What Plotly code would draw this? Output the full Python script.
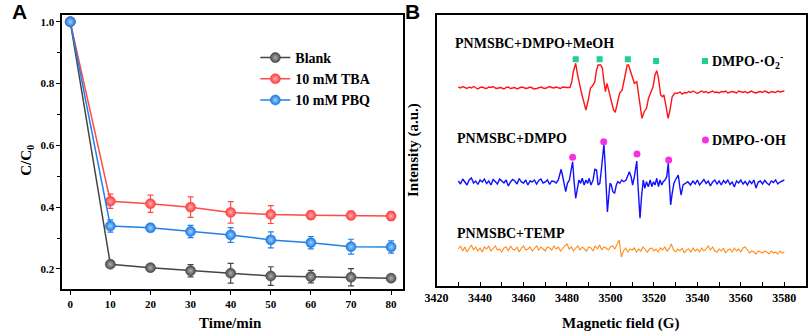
import plotly.graph_objects as go

W, H = 809, 335

# ---------------- Panel A data ----------------
time_min = [0, 10, 20, 30, 40, 50, 60, 70, 80]
blank = [1.0, 0.215, 0.204, 0.194, 0.186, 0.177, 0.175, 0.173, 0.170]
blank_err = [0.0, 0.010, 0.008, 0.020, 0.032, 0.030, 0.020, 0.028, 0.008]
tba = [1.0, 0.419, 0.411, 0.400, 0.383, 0.376, 0.374, 0.373, 0.371]
tba_err = [0.0, 0.023, 0.028, 0.033, 0.035, 0.029, 0.013, 0.013, 0.014]
pbq = [1.0, 0.339, 0.333, 0.321, 0.310, 0.294, 0.285, 0.272, 0.271]
pbq_err = [0.0, 0.020, 0.011, 0.020, 0.024, 0.026, 0.020, 0.024, 0.020]
series_names = ["Blank", "10 mM TBA", "10 mM PBQ"]
a_xticks = [0, 10, 20, 30, 40, 50, 60, 70, 80]
a_yticks = [0.2, 0.4, 0.6, 0.8, 1.0]
a_yticktext = ["0.2", "0.4", "0.6", "0.8", "1.0"]

# ---------------- Panel B data (intensity, arbitrary units) ----------------
# MeOH spectrum (red)
red_left_start = 3430
red_left = [1, 0, 1.5, 0.5, -0.5, 1, 0, 1.5, 0.5, -1, 0.5, 1, 0, -0.5, 1, 0.5, 1.5, 0,
            -0.5, 0.5, 0, -1, 0.5, 1, -0.5, 0, 0.5, -1, 0, 1, 0.5, -0.5, 0, 1, 0, -1,
            -0.5, 0.5, 1, 0, -0.5, 0.5, 1.5, 0.5, 0, 1, 0.5, -0.5, 1, 0.5]
red_feat_field = [3480, 3481.4, 3482.2, 3482.9, 3484.0, 3484.8, 3486.0, 3486.7, 3487.5,
                  3488.7, 3489.8, 3490.8, 3491.7, 3492.8, 3493.6, 3494.3, 3495.5, 3496.3,
                  3497.0, 3497.7, 3498.4, 3499.2, 3500.4, 3501.4, 3502.2, 3503.0, 3504.2,
                  3505.4, 3506.4, 3507.7, 3508.3, 3509.2, 3510.2, 3511.0, 3512.1, 3512.8,
                  3513.7, 3514.5, 3515.5, 3516.6, 3517.5, 3518.6, 3519.6, 3520.5, 3521.3,
                  3522.1, 3523.1, 3523.9, 3524.6, 3525.6, 3526.5, 3527.4, 3528.4, 3529.6,
                  3530.7, 3532, 3533, 3534]
red_feat = [0.5, 0.5, 6.3, 16.3, 24.7, 14, 0, -5.3, -12,
            -22, -12, 0, 2, 6.3, 18, 23, 23, 19.7,
            6.3, -3.7, 4.7, -2, -12, -22, -24.3, -17, -5.3,
            -2, 9.7, 23, 23, 16.3, 8, 4.7, 6.3, -5.3,
            -20.3, -30.3, -23.7, -20.3, -10.3, -3.7, 1.3, 13, 17.3,
            9.7, -7, -8.7, -7, -18.7, -30.3, -22, -8.7, -5.3,
            -5.3, -4, -6, -4.5]
red_right_start = 3535
red_right = [-5, -3.5, -4.5, -3, -4, -5.5, -4, -3, -4.5, -3.5, -5, -4, -3, -4.5, -4, -5,
             -3.5, -4, -3, -5, -4.5, -3.5, -4, -5, -3, -4, -4.5, -3.5, -5, -4, -3, -4.5,
             -5, -4, -3.5, -4.5, -3, -4, -5, -3.5, -4, -4.5, -3, -4, -3.5, -3]

# DMPO spectrum (blue)
blue_left_start = 3430
blue_left = [1, -2, 3, 0, -3, 2, 4, -1, 1, -2.5, 2, 0, 3, -1.5, 1, -3, 2.5, 0.5, -2, 3,
             1, -1, 2, -4, 0, 2.5, 1, -2, 3.5, 0, -1, 2, -3, 1, 0, 2, -2, 1.5, 3, -1, 0,
             2, -2.5, 1, 0.5, -1, 2]
blue_feat_field = [3476.9, 3477.3, 3477.9, 3478.7, 3479.4, 3480.2, 3481.1, 3481.9, 3482.6,
                   3483.2, 3484.0, 3484.8, 3485.5, 3486.3, 3487.0, 3487.9, 3488.7, 3489.5,
                   3490.2, 3491.0, 3492.0, 3492.8, 3493.6, 3494.3, 3495.1, 3495.8, 3496.6,
                   3497.0, 3497.6, 3498.3, 3498.6, 3499.2, 3499.8, 3500.4, 3501.1, 3501.9,
                   3502.7, 3503.4, 3504.3, 3505.2, 3506.1, 3507.2, 3508.0, 3508.7, 3509.5,
                   3510.2, 3511.0, 3512.1, 3512.7, 3513.3, 3513.6, 3514.3, 3515.1, 3515.8,
                   3516.6, 3517.4, 3518.3, 3519.0, 3519.8, 3520.5, 3521.3, 3522.1, 3522.8,
                   3523.6, 3524.3, 3525.1, 3525.9, 3526.6, 3527.2, 3527.7, 3528.4, 3529.2,
                   3529.9, 3530.7, 3531.2, 3531.9, 3532.5, 3533.4, 3534.5, 3535.6, 3536.8]
blue_feat = [10.3, 12.7, 7, -3, -9.7, -1.3, 2, 12, 20.3,
             2, -16.3, -6.3, 2, -1.3, 3.7, -3, 2, -1.3,
             3.7, -3, 2, 12.7, 12, -3, -1.3, 12, 32,
             38, 15.3, -21.3, -30, -14.7, -1.3, -3, -9.7, -11.3,
             -3, 0.3, -1.3, 2, 0.3, 2, 7, 10.3, 5.3,
             -3, 5.3, 21, -4.7, -28, -36.3, -14.7, 2, -6.3,
             0.3, -4.7, 2, -4.7, 0.3, -3, 3.7, -4.7, 2,
             -3, 0.3, 2, 5.3, 19, -1.3, -23, -11.3, -1.3,
             2, 5.3, 7, -4.7, -13, -3, -1.3, 0.3, -3]
blue_right_start = 3538
blue_right = [1, -2, 2, -3, 0, 2.5, -1.5, 1, -4, 0, 2, -2, 1, -3, 1.5, -1, 2, -2.5, 0, -5,
              1, -1, 2, -2, 0.5, -3, 1, -1.5, 2, -6, 0, 1, -2, 1.5, -1, -3, 1, -0.5, 2,
              -2, 0, 1, 2]

# TEMP spectrum (orange)
orange_start = 3430
orange = [0, 3, -2, 2, -3, 1, 4, -1, 2, -2,
          1, -3, 2, 0, 3, -2, 1, 3, -1, 0,
          -3, 1, 2, -2, 3, 0, -1, 2, -3, 1,
          3, -1, 0, 2, -2, 1, 3, -1, 2, 0,
          -2, 2, 1, -1, 3, 0, 2, -2, 1, 3,
          5, 0, 2, -2, 1, 3, -1, 2, 0, -2,
          2, 1, -2, 3, 0, 4, -1, 2, 1, -1,
          2, 3, 0, 5, 9, -8, -2, 1, -3, 0,
          -1, 1, -3, 0, -2, 2, -1, -3, 0, 1,
          -2, 0, -3, 1, -1, 2, -2, 0, 5, -1,
          -3, 0, -2, 1, -4, -1, 0, -3, 1, -2,
          0, -3, 1, -2, 0, 3, -1, 2, -2, -3,
          0, -2, 1, -4, -1, 0, -3, 1, -2, 0,
          -3, 1, 2, -1, -4, -2, -3, -5, -2, -3,
          -4, -2, -3, -5, -2, -4, -3, -5, -2, -4,
          -3]

# stacking baselines of the three spectra (same arbitrary units)
baseline_meoh, baseline_dmpo, baseline_temp = 198, 104, 37

# peak markers
o2_fields = [3484, 3495, 3508, 3521]
o2_heights = [226.7, 226.7, 226.7, 225]
oh_fields = [3482.6, 3496.9, 3512.2, 3526.8]
oh_heights = [128.7, 144.3, 132, 126]
o2_key = (3543.5, 225)
oh_key = (3543.7, 146)

b_xticks = list(range(3420, 3581, 20))

SERIF = "Liberation Serif"
SANS = "Liberation Sans"


def px(x):
    return x / W


def py(y):
    return 1 - y / H


fig = go.Figure()

# ---------- Panel A traces ----------
styles = [
    ("#454545", "#4a4a4a", "#b0b0b0"),
    ("#ff4a4a", "#ff3a3a", "#ffb0b0"),
    ("#1f80e8", "#1a78e0", "#9fd0ff"),
]
for name, vals, errs, (lc, mc, gc) in zip(series_names, [blank, tba, pbq],
                                           [blank_err, tba_err, pbq_err], styles):
    fig.add_trace(go.Scatter(
        x=time_min, y=vals, name=name, mode="lines+markers",
        line=dict(color=lc, width=1.5),
        marker=dict(size=10, color=mc, gradient=dict(type="radial", color=gc),
                    line=dict(width=0.6, color=lc)),
        error_y=dict(type="data", array=errs, visible=True, color=lc, thickness=1.2, width=3),
        xaxis="x", yaxis="y",
    ))

# ---------- Panel B traces ----------
def build(segs):
    xs, ys = [], []
    for fx, fy in segs:
        xs += list(fx)
        ys += list(fy)
    return xs, ys

rx, ry = build([
    ([red_left_start + i for i in range(len(red_left))], red_left),
    (red_feat_field, red_feat),
    ([red_right_start + i for i in range(len(red_right))], red_right),
])
bx, by = build([
    ([blue_left_start + i for i in range(len(blue_left))], blue_left),
    (blue_feat_field, blue_feat),
    ([blue_right_start + i for i in range(len(blue_right))], blue_right),
])
ox = [orange_start + i for i in range(len(orange))]

fig.add_trace(go.Scatter(x=rx, y=[baseline_meoh + v for v in ry], mode="lines",
                         line=dict(color="#ff1414", width=1.4), showlegend=False,
                         xaxis="x2", yaxis="y2"))
fig.add_trace(go.Scatter(x=bx, y=[baseline_dmpo + v for v in by], mode="lines",
                         line=dict(color="#1010ff", width=1.4), showlegend=False,
                         xaxis="x2", yaxis="y2"))
fig.add_trace(go.Scatter(x=ox, y=[baseline_temp + v for v in orange], mode="lines",
                         line=dict(color="#ff8c1a", width=1.1), showlegend=False,
                         xaxis="x2", yaxis="y2"))

fig.add_trace(go.Scatter(x=o2_fields + [o2_key[0]], y=o2_heights + [o2_key[1]], mode="markers",
                         marker=dict(symbol="square", size=6, color="#1fd08f"),
                         showlegend=False, xaxis="x2", yaxis="y2"))
fig.add_trace(go.Scatter(x=oh_fields + [oh_key[0]], y=oh_heights + [oh_key[1]], mode="markers",
                         marker=dict(symbol="circle", size=7, color="#f531e0"),
                         showlegend=False, xaxis="x2", yaxis="y2"))

axis_common = dict(showline=True, linecolor="black", linewidth=1.8, mirror=True,
                   showgrid=False, zeroline=False, ticklen=4, tickwidth=1.3, tickcolor="black")

fig.update_layout(
    width=W, height=H,
    margin=dict(l=0, r=0, t=0, b=0),
    paper_bgcolor="white", plot_bgcolor="white",
    xaxis=dict(domain=[px(51), px(397)], range=[-2, 83], tickvals=a_xticks, ticks="outside",
               tickfont=dict(family=SERIF, size=11, color="black", weight="bold"),
               anchor="y", **axis_common),
    yaxis=dict(domain=[py(289), py(15)], range=[0.135, 1.022], tickvals=a_yticks,
               ticktext=a_yticktext, ticks="outside",
               minor=dict(tickvals=[0.3, 0.5, 0.7, 0.9], ticks="outside", ticklen=3,
                          tickcolor="black"),
               tickfont=dict(family=SERIF, size=11, color="black", weight="bold"),
               anchor="x", **axis_common),
    xaxis2=dict(domain=[px(431), px(806)], range=[3420, 3590], tickvals=b_xticks,
                ticks="inside",
                minor=dict(dtick=10, tick0=3420, ticks="inside", ticklen=4, tickcolor="black"),
                tickfont=dict(family=SERIF, size=12, color="black", weight="bold"),
                anchor="y2", **axis_common),
    yaxis2=dict(domain=[py(286), py(15)], range=[0, 271], showticklabels=False, ticks="",
                anchor="x2", showline=True, linecolor="black", linewidth=1.8, mirror=True,
                showgrid=False, zeroline=False),
    legend=dict(x=px(247), y=py(42), xanchor="left", yanchor="top",
                bgcolor="rgba(0,0,0,0)", tracegroupgap=0, itemwidth=30,
                font=dict(family=SERIF, size=14, color="black", weight="bold")),
)

ann = []


def add_text(text, x, y, size, family=SERIF, xanchor="center", yanchor="middle", angle=0):
    ann.append(dict(text=text, x=px(x), y=py(y), xref="paper", yref="paper",
                    showarrow=False, xanchor=xanchor, yanchor=yanchor, textangle=angle,
                    font=dict(family=family, size=size, color="black", weight="bold")))


add_text("A", 8, 11, 21, family=SANS)
add_text("B", 407, 11, 21, family=SANS)
add_text("C/C<sub>0</sub>", 15, 160, 15, angle=-90)
add_text("Time/min", 222, 323, 15)
add_text("Intensity (a.u.)", 407, 150, 15, angle=-90)
add_text("Magnetic field (G)", 618, 323, 15)
add_text("PNMSBC+DMPO+MeOH", 448, 43, 14, xanchor="left")
add_text("PNMSBC+DMPO", 450, 139, 14, xanchor="left")
add_text("PNMSBC+TEMP", 450, 233, 14, xanchor="left")
add_text("DMPO-·O<sub>2</sub><sup>-</sup>", 709, 61, 14, xanchor="left")
add_text("DMPO-·OH", 709, 140, 14, xanchor="left")

fig.update_layout(annotations=ann)

fig.write_html("out.html", config={"displayModeBar": False},
               post_script="document.body.style.margin='0';document.body.style.padding='0';")
